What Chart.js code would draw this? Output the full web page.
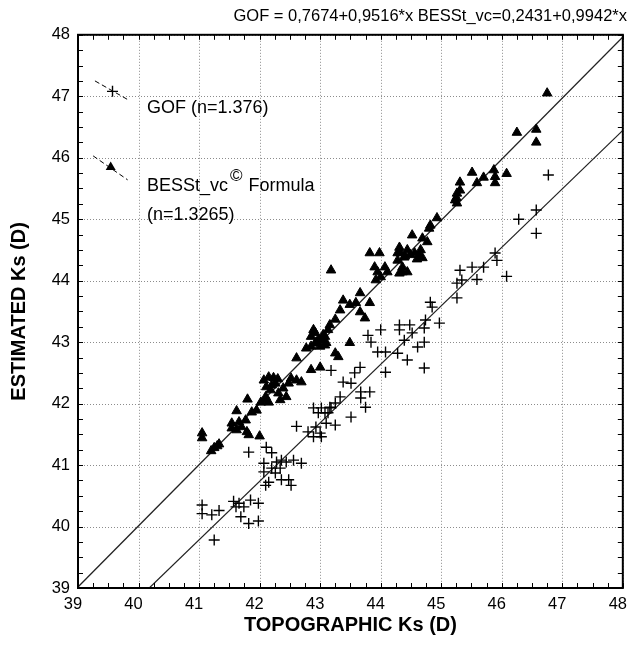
<!DOCTYPE html>
<html>
<head>
<meta charset="utf-8">
<script src="https://cdn.jsdelivr.net/npm/chart.js@4/dist/chart.umd.min.js"></script>
<style>
  body { margin: 0; background: #fff; }
  #wrap { width: 639px; height: 645px; }
</style>
</head>
<body>
<div id="wrap"><canvas id="chart" width="639" height="645"></canvas></div>
<script>
// BESSt_vc formula (filled triangles)
var besstX = [41.05,41.05,41.2,41.25,41.3,41.33,41.54,41.54,41.62,41.70,41.79,41.82,41.66,41.77,
  41.62,41.80,41.87,41.95,42.0,42.07,42.15,42.23,42.26,42.11,42.18,42.10,42.15,42.31,42.39,42.48,42.52,
  42.61,42.69,42.34,42.44,42.10,42.02,42.2,42.3,42.61,42.77,43.82,43.98,43.18,43.90,43.95,44.07,44.11,
  43.92,44.0,44.28,44.28,44.36,43.66,43.59,43.49,43.38,43.33,43.82,43.66,43.74,43.25,43.16,43.13,43.08,
  42.97,42.89,42.85,42.92,43.0,43.02,43.10,42.85,42.95,43.05,42.92,43.08,43.49,43.25,43.30,43.0,42.85,
  45.51,45.31,45.59,45.70,45.26,45.23,45.26,45.31,45.25,44.93,44.80,44.82,44.52,44.69,44.77,44.31,44.33,
  44.39,44.44,44.49,44.56,44.64,44.69,44.66,44.4,44.6,44.31,44.44,44.36,46.75,46.25,46.57,46.57,45.87,
  45.89,45.89,46.08];
var besstY = [41.52,41.44,41.23,41.28,41.31,41.34,41.68,41.60,41.57,41.62,41.54,41.49,41.70,41.73,
  41.88,42.07,41.86,41.89,41.47,42.38,42.43,42.42,42.33,42.27,42.22,42.11,42.02,42.17,42.25,42.33,42.41,
  42.38,42.35,42.06,42.11,42.06,42.02,42.3,42.4,42.74,42.90,44.45,44.45,44.17,44.22,44.14,44.22,44.14,
  44.01,44.06,44.45,44.33,44.14,43.80,43.64,43.61,43.68,43.52,43.64,43.49,43.39,43.37,43.28,43.20,43.09,
  43.04,43.20,43.09,42.99,42.93,43.04,42.99,42.93,43.0,43.12,43.15,42.95,42.99,42.82,42.76,42.59,42.55,
  45.76,45.60,45.59,45.68,45.42,45.31,45.26,45.47,45.35,45.02,44.85,44.90,44.74,44.69,44.63,44.54,44.45,
  44.38,44.50,44.42,44.45,44.42,44.37,44.50,44.4,44.35,44.12,44.14,44.22,47.05,46.41,46.46,46.25,45.80,
  45.69,45.59,45.74];

// GOF (crosses)
var gofX = [41.05,41.05,41.21,41.33,41.25,41.57,41.66,41.74,41.85,41.98,41.69,41.82,41.98,41.61,41.82,
  42.11,42.20,42.07,42.20,42.28,42.36,42.44,42.56,42.69,42.07,42.26,42.36,42.15,42.10,42.48,42.52,42.34,
  42.61,42.80,42.89,43.0,43.02,42.93,42.89,42.97,43.02,43.13,43.18,43.25,43.25,43.10,
  46.77,46.57,46.28,46.57,45.89,45.92,45.70,45.51,45.31,45.59,46.08,45.26,45.34,45.26,
  44.82,44.85,44.74,44.97,44.72,44.31,44.48,44.31,44.52,44.72,44.61,44.39,44.0,43.84,43.79,43.95,44.08,
  44.28,44.44,44.72,44.08,43.18,43.38,43.51,43.57,43.66,43.67,43.82,43.67,43.75,43.33,43.16,43.08,43.51];
var gofY = [40.35,40.21,40.19,40.26,39.78,40.41,40.38,40.32,40.43,40.38,40.16,40.05,40.09,40.32,41.21,
  41.29,41.20,41.03,40.95,41.05,41.08,41.05,41.08,41.03,40.89,40.87,40.76,40.72,40.67,40.76,40.67,40.95,
  41.63,41.54,41.46,41.52,41.46,41.62,41.93,41.85,41.93,41.85,41.93,42.01,41.65,41.68,
  45.72,45.15,45.0,44.77,44.45,44.33,44.22,44.22,44.17,44.02,44.07,43.96,44.01,43.72,
  43.65,43.57,43.36,43.31,43.23,43.28,43.28,43.20,43.15,43.0,42.92,43.03,43.20,43.0,43.11,42.84,42.84,
  42.82,42.71,42.58,42.51,42.54,42.35,42.33,42.50,42.59,42.19,42.19,42.09,41.94,42.11,41.94,41.85,41.78];

// fitted lines from the title: [intercept, slope]
var gofFit = [0.7674, 0.9516];
var besstFit = [0.2431, 0.9942];
var axisMin = 39, axisMax = 48;

function toPoints(xs, ys) {
  return xs.map(function(v, i) { return {x: v, y: ys[i]}; });
}
function fitLine(c) {
  var x0 = Math.max(axisMin, (axisMin - c[0]) / c[1]);
  var x1 = Math.min(axisMax, (axisMax - c[0]) / c[1]);
  return [{x: x0, y: c[0] + c[1] * x0}, {x: x1, y: c[0] + c[1] * x1}];
}

var FONT = "'Liberation Sans', Arial, sans-serif";

// dotted grid at the whole numbers
var gridPlugin = {
  id: 'gridPlugin',
  beforeDatasetsDraw: function(chart) {
    var ctx = chart.ctx, a = chart.chartArea;
    var xs = chart.scales.x, ys = chart.scales.y;
    ctx.save();
    ctx.strokeStyle = '#8c8c8c';
    ctx.lineWidth = 1;
    ctx.setLineDash([1, 2]);
    ctx.beginPath();
    xs.ticks.forEach(function(t) {
      if (!Number.isInteger(t.value)) return;
      var p = Math.round(xs.getPixelForValue(t.value)) + 0.5;
      ctx.moveTo(p, a.top); ctx.lineTo(p, a.bottom);
    });
    ys.ticks.forEach(function(t) {
      if (!Number.isInteger(t.value)) return;
      var p = Math.round(ys.getPixelForValue(t.value)) + 0.5;
      ctx.moveTo(a.left, p); ctx.lineTo(a.right, p);
    });
    ctx.stroke();
    ctx.restore();
  }
};

// box, inward ticks and the hand-made legend
var framePlugin = {
  id: 'framePlugin',
  afterDatasetsDraw: function(chart) {
    var ctx = chart.ctx, a = chart.chartArea;
    var xs = chart.scales.x, ys = chart.scales.y;
    ctx.save();
    ctx.strokeStyle = '#000';
    ctx.lineWidth = 1;
    ctx.beginPath();
    xs.ticks.forEach(function(t) {
      var p = Math.round(xs.getPixelForValue(t.value)) + 0.5;
      ctx.moveTo(p, a.bottom); ctx.lineTo(p, a.bottom - 5);
      ctx.moveTo(p, a.top); ctx.lineTo(p, a.top + 5);
    });
    ys.ticks.forEach(function(t) {
      var p = Math.round(ys.getPixelForValue(t.value)) + 0.5;
      ctx.moveTo(a.left, p); ctx.lineTo(a.left + 5, p);
      ctx.moveTo(a.right, p); ctx.lineTo(a.right - 5, p);
    });
    ctx.stroke();
    ctx.lineWidth = 2;
    ctx.strokeRect(a.left, a.top, a.right - a.left, a.bottom - a.top);

    // legend samples
    ctx.lineWidth = 1;
    ctx.setLineDash([5, 3]);
    ctx.beginPath();
    ctx.moveTo(xs.getPixelForValue(39.28), ys.getPixelForValue(47.25));
    ctx.lineTo(xs.getPixelForValue(39.85), ys.getPixelForValue(46.93));
    ctx.moveTo(xs.getPixelForValue(39.25), ys.getPixelForValue(46.03));
    ctx.lineTo(xs.getPixelForValue(39.82), ys.getPixelForValue(45.64));
    ctx.stroke();
    ctx.setLineDash([]);
    var cx = xs.getPixelForValue(39.57), cy = ys.getPixelForValue(47.08);
    ctx.lineWidth = 1.4;
    ctx.beginPath();
    ctx.moveTo(cx - 5.5, cy); ctx.lineTo(cx + 5.5, cy);
    ctx.moveTo(cx, cy - 5.5); ctx.lineTo(cx, cy + 5.5);
    ctx.stroke();
    var tx = xs.getPixelForValue(39.54), ty = ys.getPixelForValue(45.85);
    ctx.fillStyle = '#000';
    ctx.beginPath();
    ctx.moveTo(tx, ty - 5.5); ctx.lineTo(tx + 5, ty + 3); ctx.lineTo(tx - 5, ty + 3);
    ctx.closePath(); ctx.fill();

    ctx.font = '18px ' + FONT;
    ctx.textBaseline = 'middle';
    ctx.textAlign = 'left';
    var lx = 147;
    ctx.fillText('GOF (n=1.376)', lx, 108);
    ctx.fillText('BESSt_vc', lx, 186);
    var w = ctx.measureText('BESSt_vc').width;
    ctx.font = '17px ' + FONT;
    ctx.fillText('\u00A9', lx + w + 2, 176);
    var w2 = ctx.measureText('\u00A9').width;
    ctx.font = '18px ' + FONT;
    ctx.fillText(' Formula', lx + w + w2 + 3, 186);
    ctx.fillText('(n=1.3265)', lx, 215);
    ctx.restore();
  }
};

var tickFont = {family: FONT, size: 16.5};
function intLabel(v) {
  return Number.isInteger(v) ? String(v) : '';
}

var chart = new Chart(document.getElementById('chart'), {
  type: 'scatter',
  data: {
    datasets: [
      {
        label: 'BESSt_vc Formula',
        data: toPoints(besstX, besstY),
        pointStyle: 'triangle',
        radius: 5.5,
        backgroundColor: '#000',
        borderColor: '#000',
        borderWidth: 1
      },
      {
        label: 'GOF',
        data: toPoints(gofX, gofY),
        pointStyle: 'cross',
        radius: 5.5,
        borderColor: '#000',
        borderWidth: 1.4
      },
      {
        type: 'line',
        label: 'BESSt fit',
        data: fitLine(besstFit),
        borderColor: '#222',
        borderWidth: 1.2,
        pointRadius: 0
      },
      {
        type: 'line',
        label: 'GOF fit',
        data: fitLine(gofFit),
        borderColor: '#222',
        borderWidth: 1.2,
        pointRadius: 0
      }
    ]
  },
  options: {
    responsive: false,
    animation: false,
    layout: { padding: { left: 0, right: 12, top: 0, bottom: 0 } },
    plugins: {
      legend: { display: false },
      tooltip: { enabled: false },
      title: {
        display: true,
        align: 'end',
        text: 'GOF = 0,7674+0,9516*x BESSt_vc=0,2431+0,9942*x',
        color: '#000',
        font: { family: FONT, size: 16.5, weight: 'normal', lineHeight: 1.2 },
        padding: { top: 7, bottom: 8 }
      }
    },
    scales: {
      x: {
        type: 'linear',
        min: axisMin,
        max: axisMax,
        afterFit: function(s) { s.height = 57; },
        ticks: { stepSize: 0.25, autoSkip: false, maxRotation: 0, color: '#000', font: tickFont,
          padding: 7, labelOffset: -5, callback: intLabel },
        grid: { display: false, drawTicks: false },
        border: { display: false },
        title: { display: true, text: 'TOPOGRAPHIC Ks (D)', color: '#000',
          font: { family: FONT, size: 20, weight: 'bold' }, padding: { top: 0, bottom: 8 } }
      },
      y: {
        type: 'linear',
        min: axisMin,
        max: axisMax,
        afterFit: function(s) { s.width = 78; },
        ticks: { stepSize: 0.25, autoSkip: false, color: '#000', font: tickFont,
          padding: 8, callback: intLabel },
        grid: { display: false, drawTicks: false },
        border: { display: false },
        title: { display: true, text: 'ESTIMATED Ks (D)', color: '#000',
          font: { family: FONT, size: 20, weight: 'bold' }, padding: { top: 7, bottom: 0 } }
      }
    }
  },
  plugins: [gridPlugin, framePlugin]
});
</script>
</body>
</html>
